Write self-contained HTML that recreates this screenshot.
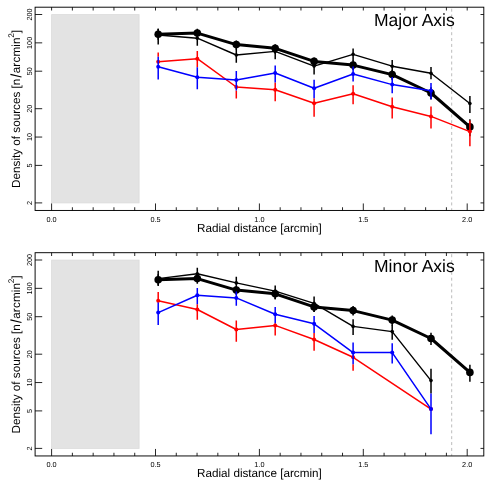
<!DOCTYPE html>
<html><head><meta charset="utf-8"><title>Density of sources</title>
<style>
html,body{margin:0;padding:0;background:#fff;}
svg{display:block;font-family:"Liberation Sans",sans-serif;text-rendering:geometricPrecision;will-change:transform;transform:translateZ(0);}
text{fill:#000;}
</style></head>
<body>
<svg width="491" height="491" viewBox="0 0 491 491">
<rect width="491" height="491" fill="#fff"/>
<g transform="translate(0,0)">
<rect x="51.6" y="14.6" width="87.5" height="188.3" fill="#e3e3e3" stroke="#dbdbdb" stroke-width="0.8"/>
<path d="M451.7 8.7V210.45" stroke="#b4b4b4" stroke-width="0.9" stroke-dasharray="3 2.87" fill="none"/>
<polyline points="158.2,34.2 197.3,33.1 236.3,44.6 275.2,48.3 314.1,61.4 353.1,65.1 392.2,74.6 431,93 469.9,126.9" fill="none" stroke="#000" stroke-width="3.0" stroke-linejoin="round" stroke-linecap="round"/>
<path d="M158.2 28.8V39.8M197.3 28.8V38.2M236.3 40.4V49.6M275.2 44.4V53.8M314.1 57.4V66.6M353.1 60.6V70M392.2 69.9V80M431 87.3V99.6M469.9 119.2V136.3" stroke="#000" stroke-width="1.5" fill="none"/>
<circle cx="158.2" cy="34.2" r="3.8" fill="#000"/>
<circle cx="197.3" cy="33.1" r="3.8" fill="#000"/>
<circle cx="236.3" cy="44.6" r="3.8" fill="#000"/>
<circle cx="275.2" cy="48.3" r="3.8" fill="#000"/>
<circle cx="314.1" cy="61.4" r="3.8" fill="#000"/>
<circle cx="353.1" cy="65.1" r="3.8" fill="#000"/>
<circle cx="392.2" cy="74.6" r="3.8" fill="#000"/>
<circle cx="431" cy="93" r="3.8" fill="#000"/>
<circle cx="469.9" cy="126.9" r="3.8" fill="#000"/>
<polyline points="158.2,35 197.3,38.2 236.3,55 275.2,51.4 314.1,66.1 353.1,54.3 392.2,66.2 431,73.2 469.9,103.5" fill="none" stroke="#000" stroke-width="1.4" stroke-linejoin="round" stroke-linecap="round"/>
<path d="M158.2 28.8V44.5M197.3 31.9V45.7M236.3 48.5V62.8M275.2 44.6V59.2M314.1 59.1V74.5M353.1 48.6V60.9M392.2 60V73.5M431 67.1V79.2M469.9 96V113.1" stroke="#000" stroke-width="1.5" fill="none"/>
<circle cx="158.2" cy="35" r="1.8" fill="#000"/>
<circle cx="197.3" cy="38.2" r="1.8" fill="#000"/>
<circle cx="236.3" cy="55" r="1.8" fill="#000"/>
<circle cx="275.2" cy="51.4" r="1.8" fill="#000"/>
<circle cx="314.1" cy="66.1" r="1.8" fill="#000"/>
<circle cx="353.1" cy="54.3" r="1.8" fill="#000"/>
<circle cx="392.2" cy="66.2" r="1.8" fill="#000"/>
<circle cx="431" cy="73.2" r="1.8" fill="#000"/>
<circle cx="469.9" cy="103.5" r="1.8" fill="#000"/>
<polyline points="158.2,61.8 197.3,58.7 236.3,87 275.2,89.7 314.1,103.2 353.1,93.8 392.2,106.8 431,116.4 469.9,131.6" fill="none" stroke="#ff0000" stroke-width="1.5" stroke-linejoin="round" stroke-linecap="round"/>
<path d="M158.2 52.5V56.8M197.3 51.1V67.2M236.3 90.6V98.4M275.2 82.6V101.3M314.1 98.2V116.8M353.1 85.3V104.2M392.2 97.6V118.4M431 106.4V128.5M469.9 120.6V146.3" stroke="#ff0000" stroke-width="1.5" fill="none"/>
<circle cx="158.2" cy="61.8" r="2.0" fill="#ff0000"/>
<circle cx="197.3" cy="58.7" r="2.0" fill="#ff0000"/>
<circle cx="236.3" cy="87" r="2.0" fill="#ff0000"/>
<circle cx="275.2" cy="89.7" r="2.0" fill="#ff0000"/>
<circle cx="314.1" cy="103.2" r="2.0" fill="#ff0000"/>
<circle cx="353.1" cy="93.8" r="2.0" fill="#ff0000"/>
<circle cx="392.2" cy="106.8" r="2.0" fill="#ff0000"/>
<circle cx="431" cy="116.4" r="2.0" fill="#ff0000"/>
<circle cx="469.9" cy="131.6" r="2.0" fill="#ff0000"/>
<polyline points="158.2,66.8 197.3,77.2 236.3,79.9 275.2,73 314.1,88.2 353.1,74 392.2,84.6 431,90.7" fill="none" stroke="#0000ff" stroke-width="1.5" stroke-linejoin="round" stroke-linecap="round"/>
<path d="M158.2 56.8V79.6M197.3 67.2V89.3M236.3 71V90.6M275.2 65.4V82.6M314.1 79.7V98.2M353.1 66.5V81.4M392.2 77V93.2M431 83.1V99.3" stroke="#0000ff" stroke-width="1.5" fill="none"/>
<circle cx="158.2" cy="66.8" r="2.0" fill="#0000ff"/>
<circle cx="197.3" cy="77.2" r="2.0" fill="#0000ff"/>
<circle cx="236.3" cy="79.9" r="2.0" fill="#0000ff"/>
<circle cx="275.2" cy="73" r="2.0" fill="#0000ff"/>
<circle cx="314.1" cy="88.2" r="2.0" fill="#0000ff"/>
<circle cx="353.1" cy="74" r="2.0" fill="#0000ff"/>
<circle cx="392.2" cy="84.6" r="2.0" fill="#0000ff"/>
<circle cx="431" cy="90.7" r="2.0" fill="#0000ff"/>
<rect x="35.1" y="7.2" width="448.7" height="203.25" fill="none" stroke="#000" stroke-width="0.95"/>
<path d="M51.6 7.2v3.3M51.6 210.45v-7M72.38 7.2v3.3M72.38 210.45v-3.2M93.16 7.2v3.3M93.16 210.45v-3.2M113.94 7.2v3.3M113.94 210.45v-3.2M134.72 7.2v3.3M134.72 210.45v-3.2M155.5 7.2v3.3M155.5 210.45v-7M176.28 7.2v3.3M176.28 210.45v-3.2M197.06 7.2v3.3M197.06 210.45v-3.2M217.84 7.2v3.3M217.84 210.45v-3.2M238.62 7.2v3.3M238.62 210.45v-3.2M259.4 7.2v3.3M259.4 210.45v-7M280.18 7.2v3.3M280.18 210.45v-3.2M300.96 7.2v3.3M300.96 210.45v-3.2M321.74 7.2v3.3M321.74 210.45v-3.2M342.52 7.2v3.3M342.52 210.45v-3.2M363.3 7.2v3.3M363.3 210.45v-7M384.08 7.2v3.3M384.08 210.45v-3.2M404.86 7.2v3.3M404.86 210.45v-3.2M425.64 7.2v3.3M425.64 210.45v-3.2M446.42 7.2v3.3M446.42 210.45v-3.2M467.2 7.2v3.3M467.2 210.45v-7M35.1 14.5h7.1M483.8 14.5h-3.3M35.1 42.85h7.1M483.8 42.85h-3.3M35.1 71.2h7.1M483.8 71.2h-3.3M35.1 108.7h7.1M483.8 108.7h-3.3M35.1 137.05h7.1M483.8 137.05h-3.3M35.1 165.4h7.1M483.8 165.4h-3.3M35.1 202.9h7.1M483.8 202.9h-3.3" stroke="#000" stroke-width="0.85" fill="none"/>
<text x="51.6" y="221.7" font-size="7.3" text-anchor="middle">0.0</text>
<text x="155.5" y="221.7" font-size="7.3" text-anchor="middle">0.5</text>
<text x="259.4" y="221.7" font-size="7.3" text-anchor="middle">1.0</text>
<text x="363.3" y="221.7" font-size="7.3" text-anchor="middle">1.5</text>
<text x="467.2" y="221.7" font-size="7.3" text-anchor="middle">2.0</text>
<text transform="translate(32.1,14.5) rotate(-90)" font-size="7.3" text-anchor="middle">200</text>
<text transform="translate(32.1,42.85) rotate(-90)" font-size="7.3" text-anchor="middle">100</text>
<text transform="translate(32.1,71.2) rotate(-90)" font-size="7.3" text-anchor="middle">50</text>
<text transform="translate(32.1,108.7) rotate(-90)" font-size="7.3" text-anchor="middle">20</text>
<text transform="translate(32.1,137.05) rotate(-90)" font-size="7.3" text-anchor="middle">10</text>
<text transform="translate(32.1,165.4) rotate(-90)" font-size="7.3" text-anchor="middle">5</text>
<text transform="translate(32.1,202.9) rotate(-90)" font-size="7.3" text-anchor="middle">2</text>
<text x="259.4" y="231.7" font-size="11.7" text-anchor="middle">Radial distance [arcmin]</text>
<g transform="translate(19.8,187.9) rotate(-90)" font-size="11.7"><text x="0" y="0">Density of sources [n</text><path d="M110.9 1.7L113.5 -9.4" stroke="#000" stroke-width="1.1" fill="none"/><text x="114.6" y="0"><tspan letter-spacing="0.15">arcmin</tspan><tspan font-size="8.2" dy="-5.5" dx="-0.3">2</tspan><tspan dy="5.5" dx="-0.2">]</tspan></text></g>
<text x="374" y="26.3" font-size="17.5">Major Axis</text>
</g>
<g transform="translate(0,245.5)">
<rect x="51.6" y="14.6" width="87.5" height="188.3" fill="#e3e3e3" stroke="#dbdbdb" stroke-width="0.8"/>
<path d="M451.7 8.7V210.45" stroke="#b4b4b4" stroke-width="0.9" stroke-dasharray="3 2.87" fill="none"/>
<polyline points="158.2,34.2 197.3,33.1 236.3,44.6 275.2,48.3 314.1,61.4 353.1,65.1 392.2,74.6 431,93 469.9,126.9" fill="none" stroke="#000" stroke-width="3.0" stroke-linejoin="round" stroke-linecap="round"/>
<path d="M158.2 28.8V39.8M197.3 28.8V38.2M236.3 40.4V49.6M275.2 44.4V53.8M314.1 57.4V66.6M353.1 60.6V70M392.2 69.9V80M431 87.3V99.6M469.9 119.2V136.3" stroke="#000" stroke-width="1.5" fill="none"/>
<circle cx="158.2" cy="34.2" r="3.8" fill="#000"/>
<circle cx="197.3" cy="33.1" r="3.8" fill="#000"/>
<circle cx="236.3" cy="44.6" r="3.8" fill="#000"/>
<circle cx="275.2" cy="48.3" r="3.8" fill="#000"/>
<circle cx="314.1" cy="61.4" r="3.8" fill="#000"/>
<circle cx="353.1" cy="65.1" r="3.8" fill="#000"/>
<circle cx="392.2" cy="74.6" r="3.8" fill="#000"/>
<circle cx="431" cy="93" r="3.8" fill="#000"/>
<circle cx="469.9" cy="126.9" r="3.8" fill="#000"/>
<polyline points="158.2,33.1 197.3,28.3 236.3,37.4 275.2,45.6 314.1,57.9 353.1,80.9 392.2,86.1 431,135.1" fill="none" stroke="#000" stroke-width="1.4" stroke-linejoin="round" stroke-linecap="round"/>
<path d="M158.2 25.2V40.5M197.3 22.2V35.5M236.3 31.2V45M275.2 39.9V53.8M314.1 50.9V66.6M353.1 73.8V89.5M392.2 79.5V94.2M431 123.3V147.9" stroke="#000" stroke-width="1.5" fill="none"/>
<circle cx="158.2" cy="33.1" r="1.8" fill="#000"/>
<circle cx="197.3" cy="28.3" r="1.8" fill="#000"/>
<circle cx="236.3" cy="37.4" r="1.8" fill="#000"/>
<circle cx="275.2" cy="45.6" r="1.8" fill="#000"/>
<circle cx="314.1" cy="57.9" r="1.8" fill="#000"/>
<circle cx="353.1" cy="80.9" r="1.8" fill="#000"/>
<circle cx="392.2" cy="86.1" r="1.8" fill="#000"/>
<circle cx="431" cy="135.1" r="1.8" fill="#000"/>
<polyline points="158.2,55.2 197.3,64 236.3,84 275.2,79.9 314.1,94 353.1,111.8 431,163.6" fill="none" stroke="#ff0000" stroke-width="1.5" stroke-linejoin="round" stroke-linecap="round"/>
<path d="M158.2 46.6V56.9M197.3 58.8V74.2M236.3 74.9V96.3M275.2 77.8V89.9M314.1 87.4V105.2M353.1 118.8V125.2" stroke="#ff0000" stroke-width="1.5" fill="none"/>
<circle cx="158.2" cy="55.2" r="2.0" fill="#ff0000"/>
<circle cx="197.3" cy="64" r="2.0" fill="#ff0000"/>
<circle cx="236.3" cy="84" r="2.0" fill="#ff0000"/>
<circle cx="275.2" cy="79.9" r="2.0" fill="#ff0000"/>
<circle cx="314.1" cy="94" r="2.0" fill="#ff0000"/>
<circle cx="353.1" cy="111.8" r="2.0" fill="#ff0000"/>
<circle cx="431" cy="163.6" r="2.0" fill="#ff0000"/>
<polyline points="158.2,67.1 197.3,49.8 236.3,52.4 275.2,68.8 314.1,78.3 353.1,107.1 392.2,107.1 431,163.6" fill="none" stroke="#0000ff" stroke-width="1.5" stroke-linejoin="round" stroke-linecap="round"/>
<path d="M158.2 56.9V79.5M197.3 42.6V58.8M236.3 45.9V60.2M275.2 61.6V77.8M314.1 70.5V87.4M353.1 97.1V118.8M392.2 97.8V118.1M431 147.9V188.8" stroke="#0000ff" stroke-width="1.5" fill="none"/>
<circle cx="158.2" cy="67.1" r="2.0" fill="#0000ff"/>
<circle cx="197.3" cy="49.8" r="2.0" fill="#0000ff"/>
<circle cx="236.3" cy="52.4" r="2.0" fill="#0000ff"/>
<circle cx="275.2" cy="68.8" r="2.0" fill="#0000ff"/>
<circle cx="314.1" cy="78.3" r="2.0" fill="#0000ff"/>
<circle cx="353.1" cy="107.1" r="2.0" fill="#0000ff"/>
<circle cx="392.2" cy="107.1" r="2.0" fill="#0000ff"/>
<circle cx="431" cy="163.6" r="2.0" fill="#0000ff"/>
<rect x="35.1" y="7.2" width="448.7" height="203.25" fill="none" stroke="#000" stroke-width="0.95"/>
<path d="M51.6 7.2v3.3M51.6 210.45v-7M72.38 7.2v3.3M72.38 210.45v-3.2M93.16 7.2v3.3M93.16 210.45v-3.2M113.94 7.2v3.3M113.94 210.45v-3.2M134.72 7.2v3.3M134.72 210.45v-3.2M155.5 7.2v3.3M155.5 210.45v-7M176.28 7.2v3.3M176.28 210.45v-3.2M197.06 7.2v3.3M197.06 210.45v-3.2M217.84 7.2v3.3M217.84 210.45v-3.2M238.62 7.2v3.3M238.62 210.45v-3.2M259.4 7.2v3.3M259.4 210.45v-7M280.18 7.2v3.3M280.18 210.45v-3.2M300.96 7.2v3.3M300.96 210.45v-3.2M321.74 7.2v3.3M321.74 210.45v-3.2M342.52 7.2v3.3M342.52 210.45v-3.2M363.3 7.2v3.3M363.3 210.45v-7M384.08 7.2v3.3M384.08 210.45v-3.2M404.86 7.2v3.3M404.86 210.45v-3.2M425.64 7.2v3.3M425.64 210.45v-3.2M446.42 7.2v3.3M446.42 210.45v-3.2M467.2 7.2v3.3M467.2 210.45v-7M35.1 14.5h7.1M483.8 14.5h-3.3M35.1 42.85h7.1M483.8 42.85h-3.3M35.1 71.2h7.1M483.8 71.2h-3.3M35.1 108.7h7.1M483.8 108.7h-3.3M35.1 137.05h7.1M483.8 137.05h-3.3M35.1 165.4h7.1M483.8 165.4h-3.3M35.1 202.9h7.1M483.8 202.9h-3.3" stroke="#000" stroke-width="0.85" fill="none"/>
<text x="51.6" y="221.7" font-size="7.3" text-anchor="middle">0.0</text>
<text x="155.5" y="221.7" font-size="7.3" text-anchor="middle">0.5</text>
<text x="259.4" y="221.7" font-size="7.3" text-anchor="middle">1.0</text>
<text x="363.3" y="221.7" font-size="7.3" text-anchor="middle">1.5</text>
<text x="467.2" y="221.7" font-size="7.3" text-anchor="middle">2.0</text>
<text transform="translate(32.1,14.5) rotate(-90)" font-size="7.3" text-anchor="middle">200</text>
<text transform="translate(32.1,42.85) rotate(-90)" font-size="7.3" text-anchor="middle">100</text>
<text transform="translate(32.1,71.2) rotate(-90)" font-size="7.3" text-anchor="middle">50</text>
<text transform="translate(32.1,108.7) rotate(-90)" font-size="7.3" text-anchor="middle">20</text>
<text transform="translate(32.1,137.05) rotate(-90)" font-size="7.3" text-anchor="middle">10</text>
<text transform="translate(32.1,165.4) rotate(-90)" font-size="7.3" text-anchor="middle">5</text>
<text transform="translate(32.1,202.9) rotate(-90)" font-size="7.3" text-anchor="middle">2</text>
<text x="259.4" y="231.7" font-size="11.7" text-anchor="middle">Radial distance [arcmin]</text>
<g transform="translate(19.8,187.9) rotate(-90)" font-size="11.7"><text x="0" y="0">Density of sources [n</text><path d="M110.9 1.7L113.5 -9.4" stroke="#000" stroke-width="1.1" fill="none"/><text x="114.6" y="0"><tspan letter-spacing="0.15">arcmin</tspan><tspan font-size="8.2" dy="-5.5" dx="-0.3">2</tspan><tspan dy="5.5" dx="-0.2">]</tspan></text></g>
<text x="374" y="26.3" font-size="17.5">Minor Axis</text>
</g>
</svg>
</body></html>
